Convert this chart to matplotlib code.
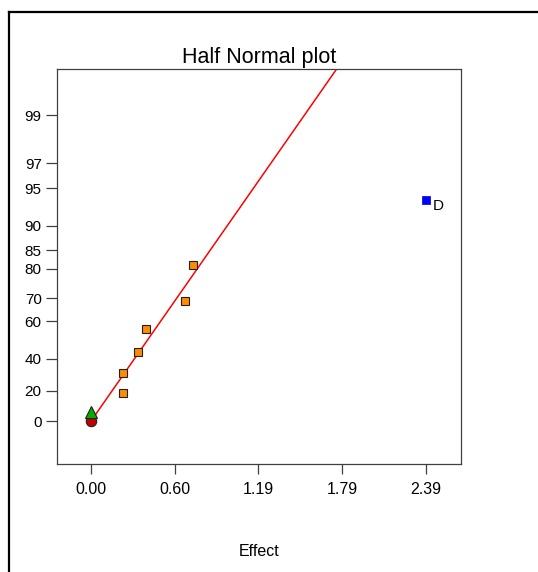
import numpy as np
import matplotlib
matplotlib.use("Agg")
import matplotlib.pyplot as plt
from matplotlib.lines import Line2D
from statistics import NormalDist

plt.rcParams['font.family'] = ['Liberation Sans', 'DejaVu Sans']

# ---- data ----
square_effects = [0.228, 0.228, 0.337, 0.392, 0.668, 0.725]
square_probs = [18.75, 31.25, 43.75, 56.25, 68.75, 81.25]
d_effect = [2.388]
d_prob = [93.75]
d_label = "D"
tri_effect = [0.0]
tri_prob = [6.25]
circ_effect = [0.0]
circ_prob = [0.0]
fit_slope_z = 1.693          # z-score per unit effect, line through origin
x_ticks = [0.00, 0.597, 1.194, 1.791, 2.388]
x_tick_labels = ["0.00", "0.60", "1.19", "1.79", "2.39"]
y_ticks = [0, 20, 40, 60, 70, 80, 85, 90, 95, 97, 99]

_nd = NormalDist()
_inv = np.vectorize(lambda q: _nd.inv_cdf(q), otypes=[float])
_cdf = np.vectorize(lambda z: _nd.cdf(z), otypes=[float])


def forward(p):
    p = np.clip(np.asarray(p, dtype=float), -99.99999, 99.99999)
    return _inv((p / 100.0 + 1.0) / 2.0)


def inverse(z):
    z = np.asarray(z, dtype=float)
    return (2.0 * _cdf(z) - 1.0) * 100.0


fig = plt.figure(figsize=(5.38, 5.72), dpi=100)
ax = fig.add_axes([57 / 538, 1 - 464 / 572, (461 - 57) / 538, (464 - 69) / 572])
ax.set_yscale('function', functions=(forward, inverse))

# fitted line
ex = np.linspace(0, 2.0, 200)
ax.plot(ex, inverse(fit_slope_z * ex), color='#ff0000', lw=1.1, zorder=2)

ax.plot(square_effects, square_probs, ls='none', marker='s', ms=6.3,
        mfc='#ff8c00', mec='#202020', mew=0.8, zorder=3)
ax.plot(d_effect, d_prob, ls='none', marker='s', ms=6.0,
        mfc='#0000ff', mec='#0000c0', mew=0.5, zorder=3)
ax.plot(circ_effect, circ_prob, ls='none', marker='o', ms=7.5,
        mfc='#c00000', mec='#202020', mew=0.8, zorder=3)
ax.plot(tri_effect, tri_prob, ls='none', marker='^', ms=8,
        mfc='#00b000', mec='#202020', mew=0.8, zorder=4)
ax.annotate(d_label, (d_effect[0], d_prob[0]), xytext=(5, -4),
            textcoords='offset points', ha='left', va='center', fontsize=11)

ax.set_xlim(-0.2425, 2.639)
ax.set_ylim(float(inverse(-0.362)), float(inverse(2.966)))
ax.set_xticks(x_ticks)
ax.set_xticklabels(x_tick_labels)
ax.set_yticks(y_ticks)
ax.set_yticklabels([str(v) for v in y_ticks])
ax.yaxis.set_minor_locator(matplotlib.ticker.NullLocator())
ax.xaxis.set_minor_locator(matplotlib.ticker.NullLocator())

for s in ax.spines.values():
    s.set_color('#404040')
    s.set_linewidth(0.9)
ax.tick_params(axis='y', direction='out', length=8, width=0.9, color='#404040',
               pad=3, labelsize=11)
ax.tick_params(axis='x', direction='out', length=7.5, width=0.9, color='#404040',
               pad=5.5, labelsize=11.5)

ax.set_title("Half Normal plot", fontsize=15.5, pad=4)
fig.text(259 / 538, 1 - 551 / 572, "Effect", ha='center', va='center', fontsize=11.5)

# outer frame
yf = 1 - 12.4 / 572
xf = 8.6 / 538
fig.add_artist(Line2D([xf, 1], [yf, yf], color='black', lw=1.6, transform=fig.transFigure))
fig.add_artist(Line2D([xf, xf], [0, yf], color='black', lw=1.6, transform=fig.transFigure))

fig.savefig("out.png", dpi=100)
